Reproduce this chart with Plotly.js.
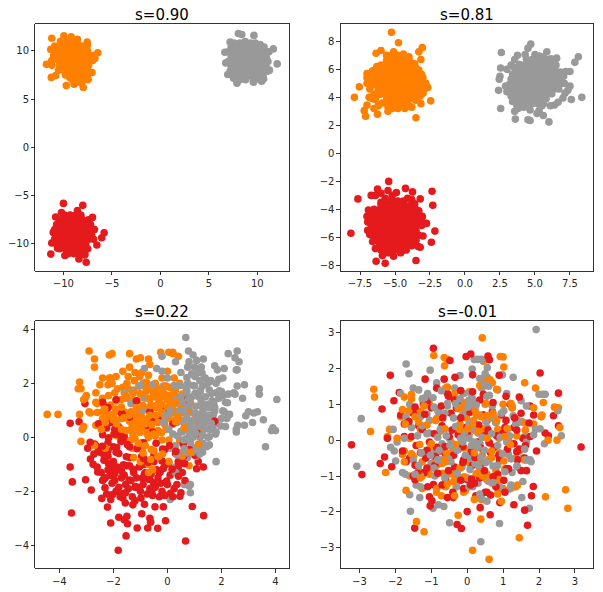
<!DOCTYPE html>
<html><head><meta charset="utf-8">
<script src="https://cdn.plot.ly/plotly-3.0.1.min.js"></script>
<style>html,body{margin:0;padding:0;background:#fff}#c{width:603px;height:592px}</style>
</head><body><div id="c"></div>
<script>
const titles=["s=0.90","s=0.81","s=0.22","s=-0.01"];
const colors=["#e41a1c","#ff7f00","#999999"];

const a_red_x=[-10,-8,-10.2,-8.55,-7,-10.8,-11.05,-6.8,-5.8,-6.05,-6.55,-11.2,-11.3,-7.65,-8.4,-7.8,-9.85,-10.6,-7.35];
const a_red_y=[-5.8,-6,-6.75,-6.55,-7.25,-7.2,-8.8,-8.5,-8.85,-9.35,-10.1,-9.9,-11.05,-11.9,-11.55,-11.15,-11.2,-10.45,-9.4];
const a_orange_x=[-11.2,-9.95,-9.2,-8.55,-7.55,-7.55,-11.3,-6.45,-6.75,-11.75,-11.25,-10.8,-9.7,-8.9,-7.95,-7.45,-7.05,-8.15,-9.35];
const a_orange_y=[11.3,11.55,11.45,11.2,10.9,10.6,10.15,9.8,9.2,8.6,7.25,7.45,6.4,6.55,6.2,7.05,7.75,6.65,7.25];
const a_gray_x=[8.05,8.4,9.65,11.65,12.05,6.65,6.75,7.2,6.95,7.55,7.9,9.6,10.45,10.65,11.25,11,11.2,10.3,8.75];
const a_gray_y=[11.8,11.7,11.6,10.2,8.65,9.85,8.75,10.9,7.55,7.15,6.65,6.75,6.85,7.1,8,9.05,9.9,10.65,10.95];
const a_red_rows=[[-7,-9.9,-9.3,-8.7,-8.2],[-7.5,-10.4,-9.8,-9.2,-8.6,-8,-7.4],[-8,-10.7,-10.1,-9.5,-8.9,-8.3,-7.7,-7.2],[-8.5,-10.9,-10.4,-9.8,-9.2,-8.6,-8,-7.4],[-9,-10.7,-10.1,-9.5,-8.9,-8.3,-7.7,-7.1],[-9.5,-10.9,-10.4,-9.8,-9.2,-8.6,-8,-7.4,-6.9],[-10,-10.7,-10.1,-9.5,-8.9,-8.3,-7.7],[-10.5,-10.4,-9.8,-9.2,-8.6,-8,-7.5],[-11,-9.5,-8.9,-8.3,-7.8]];
const a_orange_rows=[[11,-10.3,-9.7,-9.1,-8.6],[10.5,-10.9,-10.4,-9.8,-9.2,-8.6,-8.1,-7.6],[10,-11,-10.5,-9.9,-9.3,-8.7,-8.1,-7.5],[9.5,-11,-10.4,-9.8,-9.2,-8.6,-8,-7.4,-6.9],[9,-11.2,-10.5,-9.9,-9.3,-8.7,-8.1,-7.5,-7],[8.5,-11.2,-10.4,-9.8,-9.2,-8.6,-8,-7.4],[8,-10.5,-9.9,-9.3,-8.7,-8.1,-7.5],[7.5,-9.8,-9.2,-8.6,-8,-7.5],[7,-9.1,-8.5,-7.9,-7.5]];
const a_gray_rows=[[10.8,7.6,8.2,8.8,9.3,9.8],[10.4,7.3,7.9,8.5,9.1,9.7,10.3,10.7],[9.9,7,7.6,8.2,8.8,9.4,10,10.6,11],[9.4,7.3,7.9,8.5,9.1,9.7,10.3,10.9],[8.9,7,7.6,8.2,8.8,9.4,10,10.6,11.1],[8.4,7.3,7.9,8.5,9.1,9.7,10.3,10.9],[7.9,7.2,7.7,8.3,8.9,9.5,10.1,10.7,11.1],[7.4,7.6,8.2,8.8,9.4,10,10.6],[7,8.2,8.8,9.6,10.3]];

const b_red_x=[-5.45,-4.25,-2.35,-3.75,-6.25,-5.5,-6,-6.7,-6.4,-7.65,-3.2,-2.3,-8.15,-2.15,-2.75,-2.4,-6.35,-5.7,-3.5,-5.9,-5.1,-3.2,-3,-6.85,-6.9,-3.35,-3.3,-3.05];
const b_red_y=[-2,-2.5,-2.7,-2.75,-2.55,-2.65,-2.85,-3,-3,-3.25,-3.25,-3.7,-5.7,-5.55,-5,-6.35,-7.7,-7.85,-7.65,-7.3,-7.35,-6.7,-5.9,-4.45,-4.05,-6.65,-4.1,-4.5];
const b_orange_x=[-5.25,-4.75,-3.05,-3.3,-6,-6.35,-3.15,-7.9,-7.55,-2.45,-3.5,-7.2,-7.1,-7,-6.25,-6.5,-5.5,-2.65,-2.8,-3.1,-3.8,-3.15,-3.95,-6.85,-7];
const b_orange_y=[8.65,7.9,7.55,7.25,7.35,7.15,6.7,4,4.75,3.75,2.55,3.05,2.65,3.45,2.8,3.2,3,4.7,5,5.65,6.45,3.55,3.35,4,5.7];
const b_gray_x=[2.6,4.7,4.5,8.1,7.85,5.85,3.75,3.55,2.55,3,2.5,2.45,2.4,2.55,3.55,3.6,4.5,4.65,6,5.6,8.35,7.6,7.2,7.5,7.5,7.35,7,6.55,6.2,5.15,4.65];
const b_gray_y=[7.2,7.8,7.5,6.9,6.5,7.25,7,6.7,6.1,6,5.5,5.3,4.5,3.2,3,2.45,2.4,2.35,2.25,2.7,4,3.85,5.85,5.85,4.8,4.5,3.95,6.8,6.2,2.85,3.1];
const b_red_rows=[[-3.4,-5.6,-5.2,-4.8,-4.4],[-3.75,-6,-5.6,-5.2,-4.8,-4.4,-4,-3.6],[-4.1,-6.3,-5.9,-5.5,-5.1,-4.7,-4.3,-3.9,-3.5],[-4.45,-6.6,-6.2,-5.8,-5.4,-5,-4.6,-4.2,-3.8,-3.4],[-4.8,-6.8,-6.4,-6,-5.6,-5.2,-4.8,-4.4,-4,-3.6,-3.2],[-5.15,-6.7,-6.3,-5.9,-5.5,-5.1,-4.7,-4.3,-3.9,-3.5,-3.1],[-5.5,-6.7,-6.3,-5.9,-5.5,-5.1,-4.7,-4.3,-3.9,-3.5],[-5.85,-6.5,-6.1,-5.7,-5.3,-4.9,-4.5,-4.1,-3.7,-3.3],[-6.2,-6.4,-6,-5.6,-5.2,-4.8,-4.4,-4,-3.6],[-6.55,-6.1,-5.7,-5.3,-4.9,-4.5,-4.1,-3.8],[-6.9,-5.6,-5.2,-4.8,-4.4]];
const b_orange_rows=[[7,-5.2,-4.8,-4.4],[6.65,-5.6,-5.2,-4.8,-4.4,-4],[6.3,-6,-5.6,-5.2,-4.8,-4.4,-4,-3.7],[5.95,-6.4,-6,-5.6,-5.2,-4.8,-4.4,-4,-3.6,-3.3],[5.6,-6.8,-6.4,-6,-5.6,-5.2,-4.8,-4.4,-4,-3.6,-3.2],[5.25,-6.9,-6.5,-6.1,-5.7,-5.3,-4.9,-4.5,-4.1,-3.7,-3.3],[4.9,-6.6,-6.2,-5.8,-5.4,-5,-4.6,-4.2,-3.8,-3.4,-3],[4.55,-6.2,-5.8,-5.4,-5,-4.6,-4.2,-3.8,-3.4,-3],[4.2,-6.1,-5.7,-5.3,-4.9,-4.5,-4.1,-3.7,-3.3],[3.85,-6.4,-5.6,-5.2,-4.8,-4.4,-4,-3.6],[3.5,-5.4,-5,-4.6,-4.2],[3.2,-5.2,-4.8]];
const b_gray_rows=[[6.7,4.4,4.8,5.2,5.6,6],[6.35,3.9,4.3,4.7,5.1,5.5,5.9,6.3],[6,3.6,4,4.4,4.8,5.2,5.6,6,6.4],[5.65,3.4,3.8,4.2,4.6,5,5.4,5.8,6.2,6.6],[5.3,3.3,3.7,4.1,4.5,4.9,5.3,5.7,6.1,6.5,6.8],[4.95,3.2,3.6,4,4.4,4.8,5.2,5.6,6,6.4,6.8],[4.6,3.2,3.6,4,4.4,4.8,5.2,5.6,6,6.4,6.7],[4.25,3.4,3.8,4.2,4.6,5,5.4,5.8,6.2],[3.9,3.8,4.2,4.6,5,5.4,5.8],[3.55,4,4.4,4.8,5.2,5.6]];
const b_red_fringe=[[-6,-3.5],[-6.5,-4],[-7,-4.5],[-6.95,-4.9],[-6.95,-5.5],[-6.8,-5.8],[-6.6,-6.3],[-6.4,-6.8],[-6,-6.9],[-5.5,-7.1],[-4.6,-7.1],[-4.2,-6.9],[-3.8,-6.6],[-3.5,-6.2],[-2.9,-5],[-3.1,-4.6],[-3.6,-3.6],[-3.8,-3.3],[-4.1,-3.2],[-4.9,-2.8],[-5.2,-3],[-5.7,-3.2]];
const b_orange_fringe=[[-6.3,6.2],[-6.6,5.9],[-7,5.4],[-7,5],[-6.8,4.6],[-6.5,4.2],[-6.6,3.9],[-6.2,3.4],[-5.9,3.6],[-5.5,3.3],[-4.3,3.2],[-3.8,3.3],[-3.5,3.8],[-3.2,4.1],[-3,4.3],[-2.9,4.6],[-3,5.4],[-3.5,6.1],[-3.6,6.4],[-4,6.9],[-4.4,7.1],[-5.6,7],[-5.1,7.25]];
const b_gray_fringe=[[3.3,6.3],[3.55,6.15],[3.4,3.7],[3.7,3.45],[3.8,3.2],[4.2,3.3],[4.3,7.05],[5,7.05],[5.3,6.95],[5.6,6.9],[6.15,6.75],[6.5,6.3],[6.8,5.8],[7.05,5.5],[7.1,5],[7.15,4.3],[6.65,3.65],[6.4,3.45],[6.1,3.4],[5.5,3.4],[5.3,3.05],[2.9,4.8],[3,4.4],[3.3,4.1],[3.5,3.95]];

const c_red_x=[-3.6,-3.27,-3.05,-3.6,-3.52,-3.55,-3.03,-2.82,-1.82,-1.53,-2.1,-2.22,-1.8,-1.5,-1.6,-1.48,-1.12,-.73,-.36,-.65,-.62,-.07,-.95,.67,1.34,.92,-.15,-.46,-.85,-1.28,-1.56,1.33,1.08,1.14,.65,-2.43,-2.95,-2.85,-2.75,-2.6,-2.45,-2.3,-2.2,-2.05,-1.95,-1.8,-1.7,-1.55,-1.4,-1.25,-1.1,-.95,-.8,-.65,-.5,-.35,-.2,-.05,.1,.25,.4,.55,.7,-2.65,-2.5,-2.35,-2.2,-2.05,-1.9,-1.75,-1.6,-1.45,-1.3,-1.15,-1,-.85,-.7,-.55,-.4,-.25,-.1,.05,.2,.35,.5,.65,-2.4,-2.25,-2.1,-1.95,-1.8,-1.65,-1.5,-1.35,-1.2,-1.05,-.9,-.75,-.6,-.45,-.3,-.15,0,.2,.4,.6,-2.2,-2,-1.85,-1.7,-1.55,-1.4,-1.2,-1,-.85,-.65,-.5,-.3,-.1,.3,-2.7,-2.55,-2.35,-2.2,-2,-1.9,-1.65,-1.4,-2.55,-2.4,-2.25,-2.1,-1.95,-1.8,-1.6,-.5,-.75,-1.9,-2.2,-2.4,-1.7,-1.4,-1.15,-.65,-.35,-.05,.2,.75,1.1,1.75,-1.95,-1.8,-1.6,-.55];
const c_red_y=[.52,.58,1.25,-1.1,-1.65,-2.8,-1.57,-1.95,-4.18,-3.65,-3.17,-2.58,-2.96,-2.92,-3.05,-3.2,-3.36,-3.36,-3.37,-3,-3.14,-3.09,-2.83,-3.84,-2.9,-2.56,-2.57,-2.57,-2.48,-2.5,-2.43,-1.1,-1.16,-.9,-.81,-2.26,-.4,-.8,-1,-1.1,-1.3,-1.5,-.7,-1.15,-1.6,-.6,-1.25,-1.75,-.75,-1.3,-1.85,-.7,-1.3,-1.9,-.9,-1.5,-2,-1,-1.4,-1.9,-.9,-1.3,-.6,-.3,-.55,-.85,-1.2,-1.7,-2,-2.2,-1.4,-1.9,-2.2,-1.5,-2,-1,-1.55,-2.15,-1.2,-1.7,-2.15,-.95,-1.3,-1.75,-2.05,-1.6,-1.6,-2.1,-2.3,-1.35,-1.85,-2.25,-1.05,-1.6,-2.35,-1.1,-1.75,-2.1,-1.35,-1.85,-2.2,-1.15,-1.75,-2.2,-1.1,-.7,-.5,-.9,-1.1,-1.5,-2.05,-1.05,-1.85,-1.05,-1.35,-1.55,-.65,-1.3,-.45,-.6,-.25,-.5,-.65,-.2,-.35,-.55,-.1,-.35,.5,.1,.35,.55,.15,.35,.05,.6,.45,1.4,1.1,1.3,.9,.75,1.35,.95,.65,1.05,.5,1.4,.15,.6,.3,.1,.8,.2];
const c_orange_x=[-4.45,-4.05,-3.3,-3.2,-2.9,-2.7,-2.7,-2.4,-2.1,-2.05,-2.15,-1.4,-1.15,-1,-.7,-.65,-.25,.05,.2,.4,-3.25,-2.5,-3.1,-3.05,-3,-2.65,-2.9,-3.25,-3.15,-3.1,-2.65,-2.4,-2.45,-2.6,-2.4,-2.15,-1.9,-1.65,-1.4,-1.2,-.95,-.7,-.45,-.2,0,.25,.45,-2.2,-2.05,-1.85,-1.65,-1.45,-1.25,-1.05,-.8,-.55,-.35,-.1,.1,.3,.55,.85,-2.35,-2.1,-1.9,-1.7,-1.5,-1.3,-1.1,-.85,-.65,-.45,-.2,0,.25,.5,.8,-2.2,-2,-1.8,-1.55,-1.35,-1.1,-.9,-.65,-.4,-.2,.05,.3,.5,-2.4,-2.15,-1.9,-1.7,-1.4,-1.15,-.95,-.7,-.45,-.2,.05,.3,1,.9,1.2,1.25,-2,-1.7,-1.35,-1.1,-.85,-.6,-.35,-.05,-1.8,-1.5,-1.2,-.95,-.7,-.45,-.2,.05,-1.85,-1.3,-.9,-.5,-.35,-.7,.8,.55,1.05,.45,-1.6,-1.35,-2.3,-2.7,-3.2,-1.75,-1,-.7,-.55,.05];
const c_orange_y=[.85,.85,1.8,1.8,3.2,2.9,2.6,2.2,2.2,3.1,3.05,3.1,2.9,2.95,2.9,2.7,3.15,3.15,3.1,3,2.05,1.95,1.4,1.45,1.55,1.65,.95,.85,.3,.4,.45,.95,1.3,1.25,1.45,2.2,2.25,2.45,2.6,2.4,2.4,2.3,2,2.2,2.45,2.2,2,1.95,2,1.8,1.85,1.8,1.75,1.9,1.85,1.8,1.75,1.9,1.85,1.75,1.6,1.3,1.2,1.2,1.35,1.4,1.45,1.35,1.35,1.5,1.4,1.5,1.5,1.4,1.45,1.2,1.1,.85,.85,.95,.9,.95,.95,1,1,1.1,1,1.05,.95,.9,.7,.65,.65,.7,.6,.65,.6,.7,.65,.7,.7,.65,.65,.15,.8,.2,.1,.2,.3,.35,.35,.3,.25,.3,.4,-.15,-.05,-.2,0,.05,-.1,-.1,.05,-.4,-.35,-.5,-.7,-1,-1.05,-.7,-.65,-.1,.95,-.1,-.4,-.3,-.15,1,-.9,-1.3,-1.2,-.9,-.7];
const c_gray_x=[.68,.78,.2,.95,1.08,1.33,2.25,2.5,2.58,2.65,.8,.75,1,1.25,1.75,1.85,2.1,2.55,2.58,3.4,3.4,4.05,3.55,3.63,3.9,3.85,4,3.2,3.33,3,3.15,2.85,2.6,2.55,2.55,2.58,2.5,2.3,2.2,2.15,1.45,1.3,.75,.3,.85,.1,.62,1.15,1.4,1.6,1.9,2.05,-.4,-.2,0,.5,.9,.75,1.2,1.55,1.8,2,.7,1,1.3,1.55,1.8,2.05,2.25,2.45,.4,.65,.9,1.15,1.4,1.65,1.9,2.15,.3,.55,.8,1.05,1.3,1.55,1.75,2.1,.2,.45,.7,.95,1.2,1.45,1.7,2,.35,.6,.85,1.1,1.35,1.55,1.8,.55,.8,1.05,1.3,1.55,1.8,.7,.95,1.2,1.5,.3,.6,.9,1.2,.1,.4,1.05,-1.6,-1.3,-.9,-1.05,-.55,-.3,-.15,-.2,-1.35,-.85,-.75,.3,.8,.85,-.2,.3,.6,.35,2.78,2.85,1.8,-.85,-.9,2.9];
const c_gray_y=[3.7,3.2,3.15,3.05,2.85,2.9,3.1,2.95,3.2,2.8,2.8,2.6,2.6,2.6,2.65,2.5,2.55,2.5,2.5,1.8,1.6,1.4,.65,-.35,.35,.25,.25,.9,.95,.95,.55,.45,.45,.3,.2,1.9,1.6,.85,.7,.4,-.35,-.55,-.75,-1.1,-1.75,-2.3,-1.75,2.4,2.2,2.1,2.15,2.2,2.55,2.45,2.2,2.4,2.35,2,2.1,2.05,2,1.7,1.8,1.9,1.9,1.75,1.65,1.55,1.6,1.65,1.5,1.55,1.5,1.5,1.5,1.35,1.45,1.3,1.25,1.2,1.2,1.15,1.1,1.1,1.1,.95,.9,.9,.85,.9,.85,.8,.85,.7,.55,.55,.5,.55,.5,.6,.5,.2,.25,.2,.25,.3,.2,-.05,0,0,0,-.3,-.3,-.35,-.35,-.4,-.55,-.7,1.65,1.7,2,1.9,1.95,1.75,1.9,1.85,1.25,1.45,1.05,-1.3,-1.8,-2.05,3,2.8,-.15,-.65,1.45,1.95,-.9,2.55,1,.8];
const c_red_pairs=[[-2.72,-.62],[-2.41,-.33],[-2.18,-.02],[-1.96,.12],[-1.72,-.15],[-1.48,-.27],[-1.12,-.42],[-.88,-.2],[-.42,-.22],[-.18,-.43],[.08,-.3],[.31,-.52],[.58,-.24],[.81,-.45],[1.02,-.66],[-2.58,-1.28],[-2.36,-1.55],[-2.12,-1.41],[-1.88,-1.14],[-1.63,-1.02],[-1.42,-1.58],[-1.18,-1.82],[-.93,-1.51],[-.71,-.92],[-.52,-1.68],[-.27,-1.28],[-.03,-1.62],[.17,-1.18],[.41,-1.44],[.63,-.98],[-2.86,-.18],[-2.31,-1.87],[-2.03,-2.12],[-1.66,-2.08],[-1.27,-1.18],[-.98,-2.25],[-.58,-2.02],[-.2,-.88],[.11,-2.07],[.46,-2.18],[-1.52,-.72],[-.88,-.78],[-1.88,-.38],[-2.18,-.98]];
const c_orange_pairs=[[-1.45,2.25],[-1.22,2.1],[-1.02,2.25],[-.78,2.05],[-.52,1.65],[-.32,1.35],[-.12,1.62],[.12,1.25],[.32,1.32],[.52,1.02],[.72,.92],[-1.55,1.55],[-1.28,1.62],[-1.02,1.62],[-.78,1.72],[-.62,1.18],[-.42,1.18],[-.22,1.22],[0,1.12],[.2,1.02],[-1.42,.82],[-1.15,1.1],[-.9,1.18],[-.65,.82],[-.42,.82],[-.2,.92],[.02,.72],[.3,.58],[-1.62,.72],[-1.3,.48],[-1.05,.42],[-.82,.5],[-.58,.48],[-.35,.55],[-.1,.48],[-1.28,.12],[-1.02,.18],[-.75,.12],[-.5,.12],[-.22,.18],[-2.6,.92],[-2.32,1.05],[-2.18,1.55],[-1.92,1.05],[-1.7,1.12],[-2.3,.55],[-1.88,.5],[-1.52,.25],[-1.08,-.22],[-.82,-.3],[-.6,-.45],[-.33,-.72],[-.62,-.82],[-.18,-.62],[-.9,-.58],[-1.25,-.75],[.05,1.55],[.22,1.62],[-.32,1.78],[-.05,1.9],[.4,.72],[.62,.35],[.85,-.55],[1.15,-.25],[-2.45,.3],[-2,.65],[-1.7,.3],[-1.95,1.65],[-2.65,1.3],[-1.5,2],[-2.85,.9],[-2.25,.75],[-1.18,.85],[-.95,.75],[-.7,1.45],[-.4,1.5]];
const c_gray_pairs=[[.48,1.92],[.72,1.72],[.95,1.92],[1.22,1.72],[1.46,1.98],[1.62,1.62],[.55,1.32],[.78,1.42],[1.02,1.62],[1.25,1.32],[1.5,1.22],[1.72,1.28],[.42,.98],[.62,.98],[.85,1.22],[1.05,.88],[1.32,.95],[1.52,.82],[1.75,.98],[.52,.62],[.72,.72],[.95,.62],[1.18,.72],[1.42,.68],[1.62,.52],[.5,.22],[.72,.38],[.95,.32],[1.18,.42],[1.42,.32],[1.68,.28],[.38,.05],[.6,-.1],[.82,.08],[1.05,.15],[1.3,.08],[1.55,.02],[1.78,.12],[.62,-.42],[.85,-.18],[1.08,-.42],[1.32,-.22],[1.55,-.28],[.92,-.55],[1.2,-.62],[.72,-.58],[1.02,2.25],[1.28,2.38],[.72,2.22],[.25,1.55],[.05,.3],[.2,.12],[-.15,.55],[-.05,.82],[.1,1],[.25,1.92],[1.92,1.72],[2.22,1.28],[2.05,.98],[1.98,.42]];

const d_red_x=[-3.22,3.17,-2.93,-2.37,-2.14,-.94,-.48,-.03,.1,.58,.62,2.03,2.54,2.4,2.54,1.93,2.26,2.17,-1.46,-.16,-.28,.64,1.68,1.79,1.84,0,-2.42,-2.3,-2.22,-2.1,-1.89,-2.04,-1.17,-.64,-.34,.15,.89,-1.05,-1.03,-.98,-.39,.36,.24,.91,.87,.65,-.94,-1.85,-1.75,-1.6,-1.35,-1.1,-.8,-.55,-.3,-.05,.2,.45,.7,.95,1.2,1.45,1.85,-1.75,-1.5,-1.25,-1,-.7,-.45,-.2,.05,.3,.55,.8,1.05,1.3,1.5,1.75,-1.8,-1.55,-1.3,-1.05,-.75,-.5,-.25,0,.25,.5,.75,1,1.3,1.55,-1.7,-1.45,-1.15,-.85,-.6,-.35,-.1,.15,.4,.65,.9,1.15,1.45,-1.5,-1.2,-.9,-.6,-.3,0,.25,.55,.85,1.1,1.4,1.65,-1.45,-1.1,-.7,-.4,-.1,.2,.5,.8,1.05,1.5,1.6,-.55,.1,.35,.55,1.6,1.3,1.75,-.25];
const d_red_y=[-.13,-.19,-.96,.87,1.81,2.56,2.22,2.33,2.4,2.34,2.24,1.87,1.31,.68,.4,-.3,.12,.2,-2.45,-2.46,-2.35,-2.08,-2.37,-1.55,-1.29,-1.99,-.65,-.47,.05,-.74,1.33,1.1,1.7,1.7,1.75,1.82,1.81,-1.58,-1.83,-1.69,-1.6,-1.88,-1.55,-1.74,-1.41,-1.53,-1.24,.7,.1,-.5,.4,1.1,.8,1.3,.9,.35,1,.7,.8,.7,1,1.2,.7,.45,.75,.3,.9,.4,.75,1.1,.3,-.05,.55,.5,.35,.35,.75,.95,-.3,.1,-.35,-.05,-.3,.1,-.25,.2,-.15,.15,-.2,.2,-.1,.05,-.6,-.7,-.5,-.2,-.4,-.75,-.55,-.7,-.65,-.35,-.55,-.8,-.25,-1,-.9,-.7,-1.1,-.8,-1.1,-.55,-1.05,-.95,-.8,-.55,-.85,-1.1,-1.3,-1.25,-1.45,-1.35,-1.2,-1.45,-1.3,-1.45,-.85,-.5,-1.6,-1.25,-1.05,-1.45,-1.95,-1.8,.1,.15];
const d_orange_x=[.42,.45,-.93,-.64,-.55,-.63,1,1.02,-.18,.06,-2.6,-2.58,2.54,-2.69,-2.27,-2.22,-2.16,2.58,2.12,2.06,2.08,1.9,2.43,2.5,2.25,.61,.15,1.45,2.8,2.74,2.18,-1.2,-1.41,-.25,.38,-.72,.42,.52,.64,.7,.92,-1.85,-1.75,-1.55,-1.3,-1.05,-.85,-.6,-.35,-.1,.2,.45,.75,1,1.25,1.6,-1.8,-1.6,-1.3,-1,-.75,-.45,-.2,.05,.35,.6,.85,1.15,1.4,1.85,-1.75,-1.5,-1.25,-1,-.7,-.4,-.15,.1,.35,.6,.9,1.15,1.45,-1.6,-1.35,-1.1,-.85,-.6,-.3,0,.25,.5,.8,1.05,1.35,-1.7,-1.25,-1.05,-.85,-.6,-.3,-.05,.25,.45,.7,1,1.3,-1.25,-.9,-.6,-.3,-.1,.3,.55,.9,1.4,.95,.4];
const d_orange_y=[2.85,2.2,2.36,2.3,2.25,2.07,2.32,2.04,1.1,1.35,1.42,1.2,.9,.24,-.9,.1,.3,.35,1.05,.65,.7,1.45,.92,0,0,-3.32,-3.07,-2.72,-1.9,-1.38,-1.58,-2.55,-2.27,-2.09,-2.2,-1.55,1.7,1.65,1.68,1.6,2.33,.65,1.2,1.15,.8,1,.6,1.45,1.3,.9,.85,.7,.6,1,.95,1.6,-.4,.05,.3,-.2,.25,-.05,.45,.15,.7,.2,.3,.05,.55,.45,-.3,-.45,-.6,-.1,-.65,-.3,-.05,-.7,-.1,-.55,-.35,0,-.3,-1,-.85,-.9,-.7,-1.05,-.85,-.6,-.95,-1.05,-.85,-.8,-.5,-1.4,-1,-.95,-1.35,-1.3,-1.1,-1.4,-1.15,-.95,-1.2,-1.35,-1.3,-1.35,-.5,-.6,-1.3,-1.45,-.65,-1.1,-1.1,-1.25,-1.7,-1.65];
const d_gray_x=[1.92,.2,.3,.4,.56,-1.7,-1.62,-1.03,-.2,.14,.56,.98,1.28,2,2.1,2.17,2.52,2.62,2.15,2.03,-2.95,-2.06,-2.03,-3.07,-2.13,-1.99,-1.8,-1.6,-1.58,-1.32,-1.42,-.95,-.8,-.65,-.49,.9,.38,1.73,1.52,1.2,1.25,-1.85,-1.6,-1.35,-1.1,-.85,-.6,-.35,-.1,.15,.4,.6,.85,1.1,1.5,-1.7,-1.5,-1.3,-1.05,-.8,-.55,-.3,-.05,.2,.5,.7,.95,1.25,1.45,-1.75,-1.55,-1.25,-1.05,-.75,-.5,-.25,.05,.3,.55,.8,1.1,1.35,1.6,1.9,-1.95,-1.5,-1.25,-.95,-.7,-.4,-.15,.1,.35,.6,.85,1.1,1.55,1.65,-1.35,-1,-.7,-.45,-.15,.1,.35,.6,.85,1.15,1.4,1.75,-1.3,-.9,-.6,-.3,0,.3,.6,.9,1.2,-.15,.15,.4,.7,-.15,.05,.35,.55,.45,.15,.1];
const d_gray_y=[3.08,2.25,2.25,2.25,2.02,2.12,1.85,1.95,1.8,1.98,1.75,1.82,1.75,1.28,1.28,1.28,.82,.12,-.1,.32,.6,.3,-.3,-.73,-.2,-.58,-.9,-1.52,-1.98,-1.6,-1.25,-1.9,-1.8,-1.85,-2.3,-2.32,-2.83,-1.9,-1.6,-1.35,-.9,1.3,1,1.4,1.3,1.6,1.4,1.45,1.3,1.15,1.45,1.5,1.4,1.3,1.1,.65,.75,.65,.55,.8,.95,1,.7,.9,1,.95,.75,.9,.5,.05,.35,.4,.2,.3,.05,.3,.45,.2,.35,.5,.3,.45,.1,.3,-.05,-.55,-.35,-.35,-.1,-.15,.05,-.3,-.1,-.05,-.15,-.05,-.5,-.05,-.7,-.65,-.55,-.6,-.75,-.5,-.6,-.55,-.7,-.4,-.75,-.55,-1,-1,-.95,-1.3,-1.05,-1.2,-1.15,-1.3,-1.35,-.75,-1.3,-1.6,-1.05,-1.05,-1.3,-1.5,-1.7,1.5,1.05,1.3];
const d_red_pairs=[[-1.62,.52],[-1.18,.72],[-.92,.18],[-.68,.62],[-.42,.28],[-.18,.62],[.08,.78],[.32,.42],[.58,.28],[.82,.12],[1.08,.55],[1.32,.62],[-1.42,-.15],[-1.12,-.28],[-.88,-.45],[-.62,-.18],[-.38,-.42],[-.12,-.18],[.12,-.32],[.38,-.22],[.62,-.08],[.88,-.42],[1.12,-.25],[1.38,-.32],[-.72,.95],[-.35,1.12],[.35,1.12],[.72,1.05],[1.08,1.22],[-1.22,1.02],[-.12,-.62],[.22,-.48],[.48,-.85],[.72,-1.02],[1.02,-1.12],[-.52,-.85],[-.82,-.92],[-1.12,-.78],[-1.38,-.92],[-.18,1.38],[.15,1.35],[.45,1.28],[-.52,1.22],[-.85,1.45],[-1.45,.92],[1.38,.28],[1.62,-.15],[1.72,.48],[-.18,-1.12],[.12,-1.08]];
const d_orange_pairs=[[-1.12,.42],[-.88,.55],[-.62,.32],[-.25,.88],[-.02,.62],[.18,.55],[.42,.32],[.62,.62],[.88,.05],[1.12,.32],[1.38,.12],[1.62,.28],[-.58,-.35],[-.32,-.12],[-.08,-.22],[.18,-.18],[.42,-.42],[.68,-.48],[1.02,-.58],[-.68,-.92],[-.42,-.95],[-.2,-.78],[.35,-.85],[.42,-1],[.55,-.95],[.68,-1.08],[.28,-.92],[-.55,-1.22],[-.38,-1.15],[-.08,-1.02],[.25,.72],[.4,.65],[.55,.68],[.72,.75],[.22,.85],[.52,1.02],[.15,.45],[.3,.25],[-.08,1.05],[-.45,1.2],[1.22,1.02],[-1.45,.65],[-1.62,.82],[-1.32,-.12],[-1.55,-.38],[-1.8,.85],[-1.55,1.28],[-1.2,.95],[-.55,1.48],[.35,1.52],[.82,1.42],[1.25,.9],[1.6,.48],[1.85,.9],[1.6,-.55],[1.35,-1.3],[.85,-1.5],[.2,-1.65],[-.35,-1.55],[-.85,-1.45],[-1.3,-1.05],[-1.75,-.6],[-1.95,.05],[-1.72,.45],[-1.35,.5],[-.2,.3],[.02,.32],[.55,.05],[.82,.55],[1.2,-.12],[1.05,.1],[.68,-.3],[.2,-.35],[-.62,-.55],[-1,-.1]];
const d_gray_pairs=[[-1.12,.72],[-.92,.92],[-.62,.75],[-.38,.62],[-.12,.72],[.08,.48],[.32,.68],[.52,.52],[.75,.62],[1.02,.82],[1.28,.68],[1.52,.52],[-1.38,.12],[-1.12,.18],[-.82,.08],[-.58,.12],[-.32,.38],[-.08,.22],[.18,.28],[.42,.08],[.68,.18],[.92,.08],[1.18,.12],[-1.28,-.35],[-1.02,-.42],[-.78,-.28],[-.52,-.52],[-.28,-.28],[-.05,-.42],[.22,-.65],[.48,-.28],[.72,-.72],[.98,-.38],[1.22,-.52],[-.92,-.78],[-.62,-1.05],[-.28,-.92],[.08,-.82],[.32,-.72],[.52,-.62],[.72,-1.18],[1.05,-.88],[1.38,-.72],[.05,1.12],[.25,.98],[.02,.92],[-.2,1.15],[-.32,1.02],[-.55,1.02],[.55,1.22],[.48,1.55],[.62,1.25],[.35,1.72],[.5,1.85],[-.95,1.18],[-1.18,1.18],[-.82,-.55],[-.48,-.15],[.12,-.15],[.38,-.48],[.05,.05],[.2,-.05],[-.12,-.05],[.3,-.2],[-.18,.05],[-1.5,1.45],[-1.25,1.15],[-.72,1.38],[1.65,.95],[1.85,.15],[1.6,-.25],[1.65,-.55],[1.78,-.6],[1.55,-1.15],[1.22,-1.25],[-1.72,-.95],[-1.45,-.95],[-1.3,-1.3]];

const ranges=[[-12.9,13.3,-12.8,12.78],[-8.88,9.17,-8.4,9.24],[-4.89,4.51,-4.85,4.31],[-3.52,3.51,-3.57,3.32]];
const boxes=[[35.3,289.3,24,271],[340.7,593.3,24,271],[35.3,289.3,321,568.3],[340.7,593.3,321,568.3]];
const ticks=[[[-10,-5,0,5,10],[-10,-5,0,5,10]],[[-7.5,-5,-2.5,0,2.5,5,7.5],[-8,-6,-4,-2,0,2,4,6,8]],[[-4,-2,0,2,4],[-4,-2,0,2,4]],[[-3,-2,-1,0,1,2,3],[-3,-2,-1,0,1,2,3]]];
// rows of a solid area: [y, x, x, ...]
const fromRows=r=>r.flatMap(([y,...xs])=>xs.map(x=>[x,y]));
const zip=(x,y)=>x.map((v,i)=>[v,y[i]]);
const panels=[
 [zip(a_red_x,a_red_y).concat(fromRows(a_red_rows)),zip(a_orange_x,a_orange_y).concat(fromRows(a_orange_rows)),zip(a_gray_x,a_gray_y).concat(fromRows(a_gray_rows))],
 [zip(b_red_x,b_red_y).concat(fromRows(b_red_rows),b_red_fringe),zip(b_orange_x,b_orange_y).concat(fromRows(b_orange_rows),b_orange_fringe),zip(b_gray_x,b_gray_y).concat(fromRows(b_gray_rows),b_gray_fringe)],
 [zip(c_red_x,c_red_y).concat(c_red_pairs),zip(c_orange_x,c_orange_y).concat(c_orange_pairs),zip(c_gray_x,c_gray_y).concat(c_gray_pairs)],
 [zip(d_red_x,d_red_y).concat(d_red_pairs),zip(d_orange_x,d_orange_y).concat(d_orange_pairs),zip(d_gray_x,d_gray_y).concat(d_gray_pairs)]];
const W=603,H=592,font={family:"DejaVu Sans",size:10,color:"#262626"};
const layout={width:W,height:H,margin:{l:0,r:0,t:0,b:0},paper_bgcolor:"#fff",plot_bgcolor:"#fff",showlegend:false,annotations:[]};
const data=[];
panels.forEach((groups,p)=>{
  const s=p?String(p+1):"",[x0,x1,y0,y1]=ranges[p],[l,r,t,b]=boxes[p];
  // round-robin draw order over the groups, so colours overlap like the reference
  const xs=[],ys=[],cs=[];const n=Math.max(...groups.map(g=>g.length));
  for(let i=0;i<n;i++)groups.forEach((g,k)=>{if(i<g.length&&g[i][1]!==undefined){xs.push(g[i][0]);ys.push(g[i][1]);cs.push(colors[k]);}});
  data.push({type:"scatter",mode:"markers",x:xs,y:ys,xaxis:"x"+s,yaxis:"y"+s,marker:{color:cs,size:7.6,line:{width:0}},hoverinfo:"skip"});
  const ax={showgrid:false,zeroline:false,showline:true,mirror:true,linecolor:"#000",linewidth:0.8,ticks:"outside",ticklen:3.5,tickwidth:0.8,tickcolor:"#000",tickfont:font,tickmode:"array"};
  layout["xaxis"+s]={...ax,range:[x0,x1],domain:[l/W,r/W],anchor:"y"+s,tickvals:ticks[p][0],ticktext:ticks[p][0].map(v=>(p==1?v.toFixed(1):String(v)).replace("-","\u2212"))};
  layout["yaxis"+s]={...ax,range:[y0,y1],domain:[1-b/H,1-t/H],anchor:"x"+s,tickvals:ticks[p][1],ticktext:ticks[p][1].map(v=>String(v).replace("-","\u2212"))};
  layout.annotations.push({xref:"paper",yref:"paper",x:(l+r)/2/W,y:1-(t+1)/H,xanchor:"center",yanchor:"bottom",showarrow:false,text:titles[p],font:{family:"DejaVu Sans",size:15,color:"#000"},borderpad:0});
});
Plotly.newPlot("c",data,layout,{displayModeBar:false,staticPlot:true});
</script></body></html>
